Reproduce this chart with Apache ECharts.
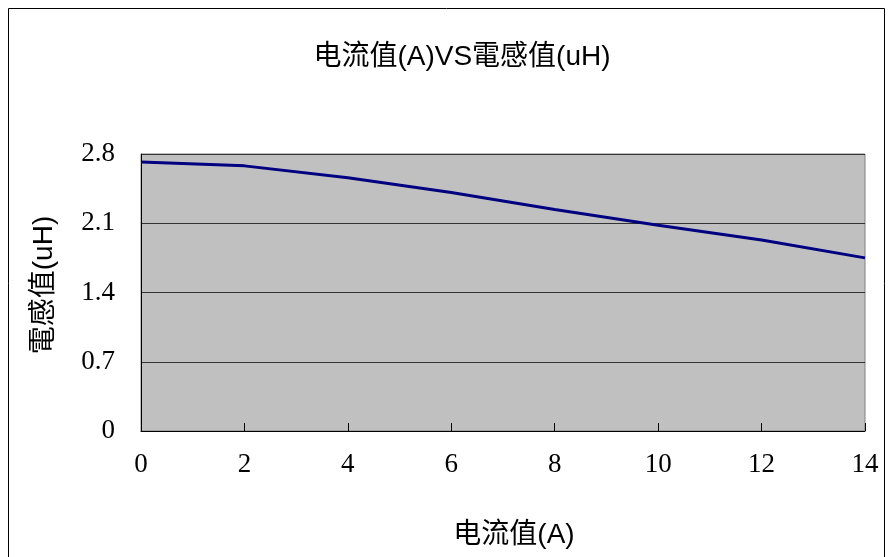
<!DOCTYPE html>
<html>
<head>
<meta charset="utf-8">
<script src="https://cdn.jsdelivr.net/npm/echarts@6/dist/echarts.min.js"></script>
<style>
html,body{margin:0;padding:0;background:#fff;}
#chart{width:894px;height:557px;}
</style>
</head>
<body>
<div id="chart"></div>
<script>
var titleText = '电流值(A)VS電感值(uH)';
var xName = '电流值(A)';
var yName = '電感值(uH)';
var currentA = [0, 2, 4, 6, 8, 10, 12, 14];
var inductanceUH = [2.72, 2.68, 2.56, 2.41, 2.24, 2.08, 1.93, 1.75];
var yTicks = [0, 0.7, 1.4, 2.1, 2.8];

var chart = echarts.init(document.getElementById('chart'), null, {renderer: 'canvas'});
var sans = '"Liberation Sans", Arial, "Noto Sans CJK SC", sans-serif';
var serif = '"Liberation Serif", "DejaVu Serif", serif';

chart.setOption({
  animation: false,
  backgroundColor: '#ffffff',
  title: {
    text: titleText,
    left: 457,
    top: 38,
    textAlign: 'center',
    textStyle: {fontFamily: sans, fontSize: 28, fontWeight: 'normal', color: '#000'}
  },
  graphic: [
    {type: 'rect', shape: {x: 8.5, y: 8.5, width: 876, height: 600}, style: {fill: 'none', stroke: '#000', lineWidth: 1}, silent: true},
    {type: 'text', x: 514, y: 535, style: {text: xName, font: '28px ' + sans, fill: '#000', textAlign: 'center', textVerticalAlign: 'middle'}},
    {type: 'text', x: 44, y: 285, rotation: Math.PI / 2, style: {text: yName, font: '28px ' + sans, fill: '#000', textAlign: 'center', textVerticalAlign: 'middle'}}
  ],
  grid: {
    left: 141, right: 29, top: 154, bottom: 126,
    show: true, backgroundColor: '#c0c0c0', borderColor: '#808080', borderWidth: 1
  },
  xAxis: {
    type: 'value', min: 0, max: 14, interval: 2,
    axisLine: {show: true, lineStyle: {color: '#000', width: 1}},
    axisTick: {show: true, inside: true, length: 8, lineStyle: {color: '#000'}},
    axisLabel: {fontFamily: serif, fontSize: 27, color: '#000', margin: 20},
    splitLine: {show: false}
  },
  yAxis: {
    type: 'value', min: 0, max: 2.8, interval: 0.7,
    axisLine: {show: true, lineStyle: {color: '#000', width: 1}},
    axisTick: {show: false},
    axisLabel: {fontFamily: serif, fontSize: 27, color: '#000', margin: 26,
      formatter: function (v) { var t = yTicks.find(function (k) { return Math.abs(k - v) < 1e-9; }); return t === undefined ? '' : String(t); }},
    splitLine: {show: true, lineStyle: {color: '#333', width: 1}}
  },
  series: [{
    type: 'line',
    data: currentA.map(function (x, i) { return [x, inductanceUH[i]]; }),
    showSymbol: false,
    symbol: 'none',
    lineStyle: {color: '#000080', width: 3},
    z: 5
  }]
});
</script>
</body>
</html>
